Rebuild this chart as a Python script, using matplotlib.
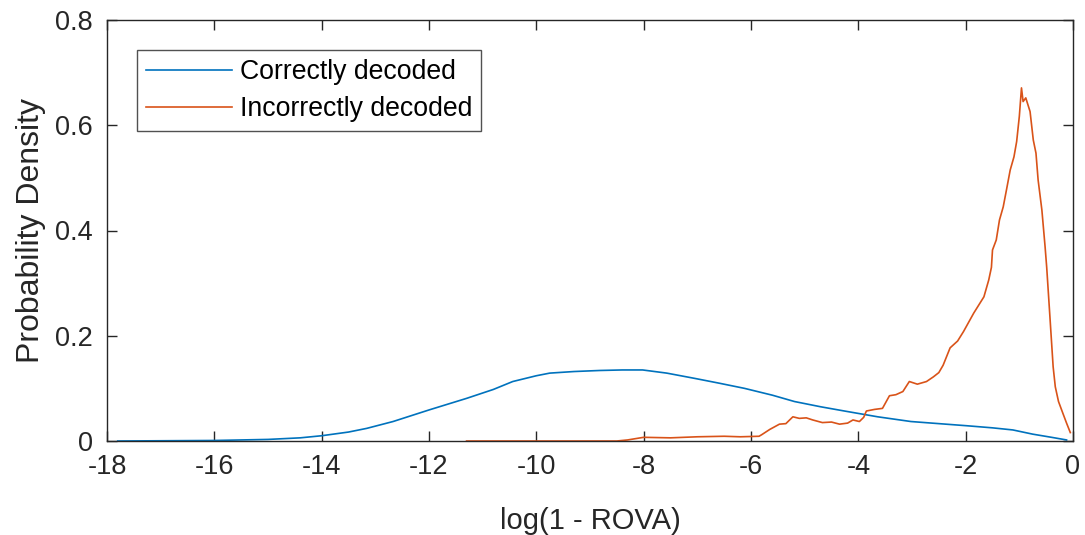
import matplotlib
matplotlib.use("Agg")
import matplotlib.pyplot as plt

# Correctly decoded (blue)
correct_x = [-17.8, -16.0, -15.0, -14.4, -14.0, -13.5, -13.16, -12.67, -12.0, -11.3,
             -10.8, -10.44, -10.0, -9.75, -9.3, -8.82, -8.4, -8.02, -7.57, -7.05,
             -6.6, -6.12, -5.6, -5.19, -4.7, -4.26, -3.64, -3.02, -2.5, -1.98,
             -1.5, -1.12, -0.75, -0.4, -0.12]
correct_y = [0.0, 0.001, 0.003, 0.006, 0.010, 0.017, 0.024, 0.037, 0.059, 0.081,
             0.098, 0.113, 0.124, 0.129, 0.132, 0.134, 0.135, 0.135, 0.129, 0.119,
             0.110, 0.100, 0.087, 0.075, 0.065, 0.057, 0.046, 0.037, 0.033, 0.029,
             0.025, 0.021, 0.013, 0.007, 0.002]

# Incorrectly decoded (orange)
incorrect_x = [-11.3, -8.5, -8.3, -8.0, -7.5, -7.0, -6.5, -6.2, -5.85, -5.8, -5.65,
               -5.47, -5.35, -5.22, -5.1, -4.97, -4.85, -4.67, -4.5, -4.35, -4.2,
               -4.1, -3.98, -3.9, -3.85, -3.7, -3.55, -3.42, -3.3, -3.17, -3.05,
               -2.9, -2.73, -2.6, -2.5, -2.42, -2.29, -2.15, -2.04, -1.85, -1.66,
               -1.57, -1.52, -1.5, -1.43, -1.37, -1.3, -1.24, -1.17, -1.1, -1.05,
               -1.0, -0.96, -0.93, -0.88, -0.8, -0.74, -0.69, -0.65, -0.58, -0.52,
               -0.49, -0.43, -0.37, -0.33, -0.27, -0.19, -0.12, -0.05]
incorrect_y = [0.0, 0.0, 0.002, 0.007, 0.006, 0.008, 0.009, 0.008, 0.009, 0.012, 0.022,
               0.032, 0.033, 0.046, 0.043, 0.044, 0.040, 0.035, 0.036, 0.032, 0.034,
               0.040, 0.037, 0.045, 0.057, 0.060, 0.062, 0.086, 0.088, 0.094, 0.113,
               0.108, 0.113, 0.122, 0.130, 0.144, 0.177, 0.190, 0.208, 0.243, 0.274,
               0.306, 0.330, 0.363, 0.382, 0.420, 0.445, 0.477, 0.515, 0.540, 0.569,
               0.617, 0.671, 0.645, 0.652, 0.626, 0.572, 0.547, 0.496, 0.439, 0.369,
               0.330, 0.236, 0.141, 0.103, 0.075, 0.053, 0.034, 0.016]

xticks = [-18, -16, -14, -12, -10, -8, -6, -4, -2, 0]
xticklabels = ["-18", "-16", "-14", "-12", "-10", "-8", "-6", "-4", "-2", "0"]
yticks = [0, 0.2, 0.4, 0.6, 0.8]
yticklabels = ["0", "0.2", "0.4", "0.6", "0.8"]

plt.rcParams['font.family'] = ['Liberation Sans', 'DejaVu Sans']

fig = plt.figure(figsize=(10.85, 5.35), dpi=100)
ax = fig.add_axes([107 / 1085, 94 / 535, 966 / 1085, 421 / 535])

ax.plot(correct_x, correct_y, color='#0072BD', lw=1.2, label='Correctly decoded')
ax.plot(incorrect_x, incorrect_y, color='#D95319', lw=1.2, label='Incorrectly decoded')

ax.set_xlim(-18, 0)
ax.set_ylim(0, 0.8)
ax.set_xticks(xticks)
ax.set_xticklabels(xticklabels)
ax.set_yticks(yticks)
ax.set_yticklabels(yticklabels)
ax.tick_params(direction='in', top=True, right=True, length=7, width=1.0,
               colors='#262626', labelsize=19.5, labelcolor='#262626')
ax.tick_params(axis='x', pad=9)
ax.tick_params(axis='y', pad=10)
for s in ax.spines.values():
    s.set_color('#262626')
    s.set_linewidth(1.0)

ax.set_xlabel('log(1 - ROVA)', fontsize=21, color='#262626', labelpad=20)
ax.set_ylabel('Probability Density', fontsize=23, color='#262626', labelpad=7)

leg = ax.legend(loc='upper left', bbox_to_anchor=(0.031, 0.929), fontsize=19.2,
                frameon=True, fancybox=False, edgecolor='#262626',
                handlelength=3.2, handletextpad=0.3, borderpad=0.35,
                labelspacing=0.4, borderaxespad=0)
leg.get_frame().set_linewidth(1.0)
for t in leg.get_texts():
    t.set_color('#000000')

fig.savefig('out.png', dpi=100, facecolor='white')
